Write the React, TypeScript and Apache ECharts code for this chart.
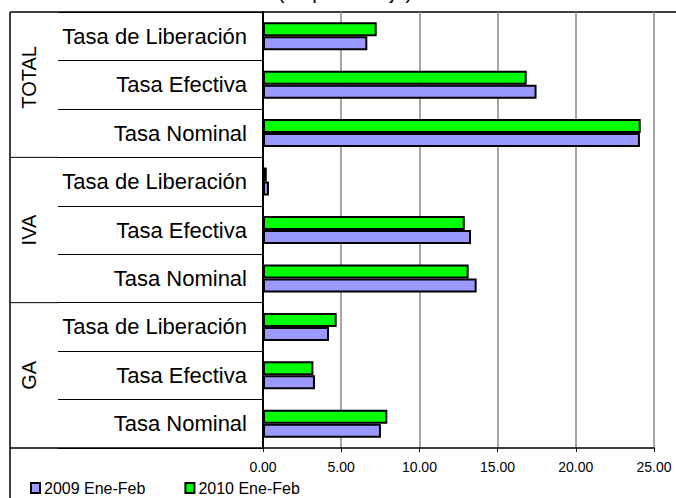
import React, { useEffect, useRef } from "react";
import * as echarts from "echarts";

const groups = ["TOTAL", "IVA", "GA"];
const subCategories = ["Tasa de Liberación", "Tasa Efectiva", "Tasa Nominal"];
const categories = groups.flatMap((g) => subCategories.map((s) => `${g}|${s}`));
const seriesNames = ["2009 Ene-Feb", "2010 Ene-Feb"];
const values2009 = [6.67, 17.49, 24.1, 0.38, 13.3, 13.66, 4.22, 3.32, 7.54];
const values2010 = [7.27, 16.86, 24.15, 0.24, 12.9, 13.15, 4.71, 3.22, 7.95];
const xTicks = { min: 0, max: 25, interval: 5 };
const titleText = "(en porcentaje)";

const W = 676;
const H = 498;
const GRID_LEFT = 263;
const GRID_RIGHT = 22;
const GRID_TOP = 12;
const GRID_BOTTOM = 50;
const FRAME_X = 10;
const SUB_SEP_X = 58;
const FONT = "'Liberation Sans', Arial, sans-serif";

export default function App() {
  const ref = useRef<HTMLDivElement>(null);
  useEffect(() => {
    document.body.style.margin = "0";
    if (!ref.current) return;
    const chart = echarts.init(ref.current, undefined, { renderer: "svg" });
    const plotH = H - GRID_TOP - GRID_BOTTOM;
    const band = plotH / categories.length;
    const axisY = H - GRID_BOTTOM;
    const groupCenters = [GRID_TOP + band * 1.35, GRID_TOP + band * 4.5, GRID_TOP + band * 7.5];

    const graphics: any[] = [
      {
        type: "text",
        x: 345,
        y: 1.5,
        style: { text: titleText, fontSize: 20, fontFamily: FONT, fill: "#000", align: "center", verticalAlign: "bottom" },
      },
      { type: "line", shape: { x1: FRAME_X, y1: GRID_TOP, x2: W, y2: GRID_TOP }, style: { stroke: "#404040", lineWidth: 2 } },
      { type: "line", shape: { x1: FRAME_X, y1: GRID_TOP, x2: FRAME_X, y2: H }, style: { stroke: "#404040", lineWidth: 2 } },
      { type: "line", shape: { x1: FRAME_X, y1: axisY, x2: GRID_LEFT, y2: axisY }, style: { stroke: "#000", lineWidth: 1.5 } },
    ];
    for (let g = 1; g < groups.length; g++) {
      const y = GRID_TOP + band * 3 * g;
      graphics.push({ type: "line", shape: { x1: FRAME_X, y1: y, x2: SUB_SEP_X, y2: y }, style: { stroke: "#000", lineWidth: 1 } });
    }
    groups.forEach((g, i) => {
      graphics.push({
        type: "text",
        x: 28.5,
        y: groupCenters[i],
        rotation: Math.PI / 2,
        style: { text: g, fontSize: 20, fontFamily: FONT, fill: "#000", align: "center", verticalAlign: "middle" },
      });
    });

    chart.setOption({
      animation: false,
      grid: { left: GRID_LEFT, right: GRID_RIGHT, top: GRID_TOP, bottom: GRID_BOTTOM, containLabel: false },
      legend: {
        data: seriesNames,
        left: 30,
        top: 480,
        padding: 0,
        icon: "rect",
        itemWidth: 9,
        itemHeight: 10,
        itemGap: 39,
        textStyle: { fontSize: 16, color: "#000", fontFamily: FONT, padding: [0, 0, 0, -1] },
      },
      xAxis: {
        type: "value",
        min: xTicks.min,
        max: xTicks.max,
        interval: xTicks.interval,
        axisLine: { show: true, lineStyle: { color: "#000", width: 1.5 } },
        axisTick: { show: true, length: 4, lineStyle: { color: "#000", width: 1 } },
        axisLabel: { formatter: (v: number) => v.toFixed(2), fontSize: 14, color: "#000", margin: 12, fontFamily: FONT },
        splitLine: { show: true, lineStyle: { color: "#888", width: 1.5 } },
      },
      yAxis: {
        type: "category",
        inverse: true,
        data: categories,
        axisLine: { show: true, lineStyle: { color: "#000", width: 2 } },
        axisTick: { show: true, length: GRID_LEFT - SUB_SEP_X, lineStyle: { color: "#000", width: 1 } },
        axisLabel: {
          formatter: (v: string) => v.split("|")[1],
          fontSize: 22,
          color: "#000",
          margin: 16,
          fontFamily: FONT,
        },
        splitLine: { show: false },
      },
      series: [
        {
          name: seriesNames[1],
          type: "bar",
          data: values2010,
          barWidth: 14,
          barGap: "0%",
          itemStyle: { color: "#00FF00", borderColor: "#000", borderWidth: 2 },
        },
        {
          name: seriesNames[0],
          type: "bar",
          data: values2009,
          barWidth: 14,
          barGap: "0%",
          itemStyle: { color: "#9999FF", borderColor: "#000", borderWidth: 2 },
        },
      ],
      graphic: graphics,
    });
    return () => chart.dispose();
  }, []);
  return <div ref={ref} style={{ width: W, height: H }} />;
}
